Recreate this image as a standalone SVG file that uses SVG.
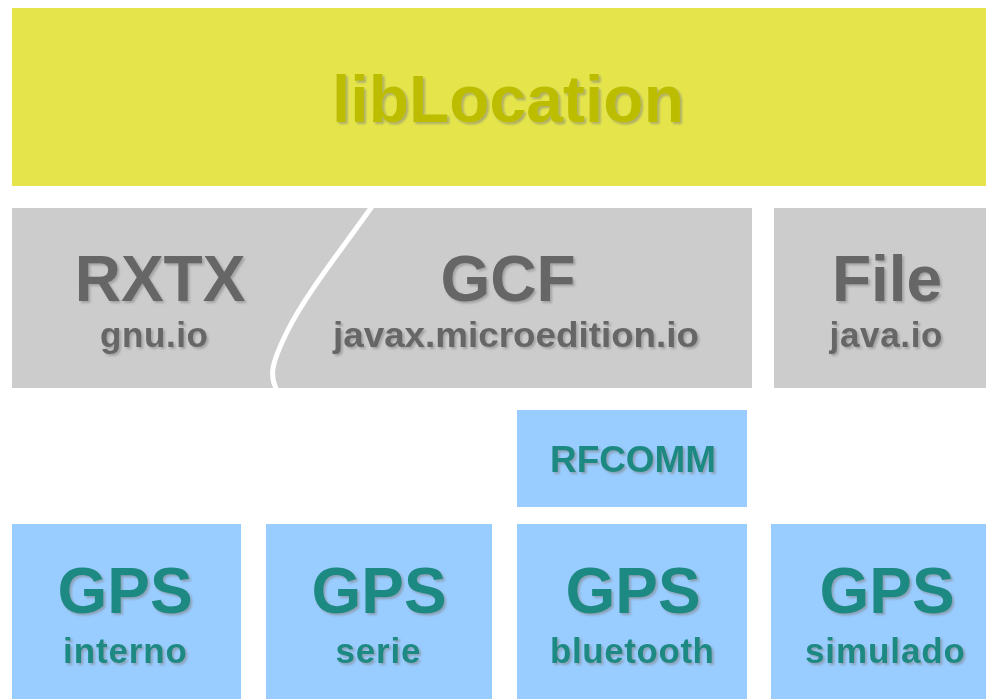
<svg xmlns="http://www.w3.org/2000/svg" width="986" height="699" viewBox="0 0 986 699">
<defs>
<filter id="sh" x="-10%" y="-20%" width="120%" height="150%">
<feDropShadow dx="2" dy="2" stdDeviation="0.8" flood-color="#808080" flood-opacity="0.55"/>
</filter>
<style>
text{font-family:"Liberation Sans",Arial,sans-serif;font-weight:bold;text-anchor:middle;filter:url(#sh)}
.big{font-size:64px}
.sub{font-size:35px}
.yel{fill:#e5e54b}
.gry{fill:#cccccc}
.blu{fill:#99ccff}
.tg{fill:#666666}
.tb{fill:#1c8a82}
</style>
</defs>
<rect width="986" height="699" fill="#ffffff"/>
<g id="libLocation">
<rect class="yel" x="12" y="8" width="974" height="178"/>
<text x="508" y="122" style="font-size:66px;fill:#bdbd00">libLocation</text>
</g>
<g id="rxtx-gcf">
<rect class="gry" x="12" y="208" width="740" height="180"/>
<path d="M373 205 C345 245 305 295 288 330 C272 362 268 376 278 392" fill="none" stroke="#ffffff" stroke-width="5"/>
</g>
<g id="RXTX">
<text class="big tg" x="160" y="301">RXTX</text>
<text class="sub tg" x="154" y="347" textLength="108" lengthAdjust="spacing">gnu.io</text>
</g>
<g id="GCF">
<text class="big tg" x="508" y="301">GCF</text>
<text class="sub tg" x="516" y="347" textLength="366" lengthAdjust="spacingAndGlyphs">javax.microedition.io</text>
</g>
<g id="File">
<rect class="gry" x="774" y="208" width="212" height="180"/>
<text class="big tg" x="887" y="301">File</text>
<text class="sub tg" x="886" y="347" textLength="113" lengthAdjust="spacing">java.io</text>
</g>
<g id="RFCOMM">
<rect class="blu" x="517" y="410" width="230" height="97"/>
<text class="tb" x="633" y="472" style="font-size:37px" textLength="166" lengthAdjust="spacing">RFCOMM</text>
</g>
<g id="gps-interno">
<rect class="blu" x="12" y="524" width="229" height="175"/>
<text class="big tb" x="125" y="613">GPS</text>
<text class="sub tb" x="125" y="663" textLength="124" lengthAdjust="spacing">interno</text>
</g>
<g id="gps-serie">
<rect class="blu" x="266" y="524" width="226" height="175"/>
<text class="big tb" x="379" y="613">GPS</text>
<text class="sub tb" x="378" y="663" textLength="85" lengthAdjust="spacing">serie</text>
</g>
<g id="gps-bluetooth">
<rect class="blu" x="517" y="524" width="230" height="175"/>
<text class="big tb" x="633" y="613">GPS</text>
<text class="sub tb" x="632" y="663" textLength="164" lengthAdjust="spacing">bluetooth</text>
</g>
<g id="gps-simulado">
<rect class="blu" x="771" y="524" width="215" height="175"/>
<text class="big tb" x="887" y="613">GPS</text>
<text class="sub tb" x="885" y="663" textLength="160" lengthAdjust="spacing">simulado</text>
</g>
<g id="connectors"></g>
</svg>
